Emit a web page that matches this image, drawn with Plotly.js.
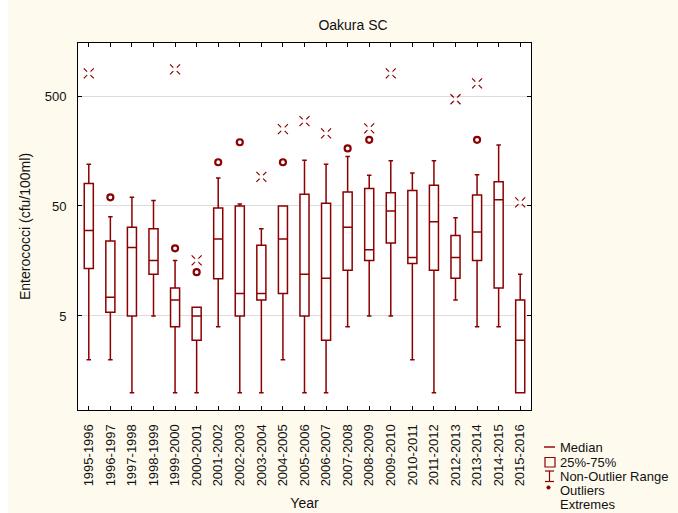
<!DOCTYPE html>
<html>
<head>
<meta charset="utf-8">
<script src="https://cdn.plot.ly/plotly-3.0.1.min.js"></script>
<style>html,body{margin:0;padding:0;background:#fffaee;}#chart{width:678px;height:513px;}</style>
</head>
<body>
<div id="chart"></div>
<script>
// ---- data ----
const years = ['1995-1996','1996-1997','1997-1998','1998-1999','1999-2000','2000-2001','2001-2002',
  '2002-2003','2003-2004','2004-2005','2005-2006','2006-2007','2007-2008','2008-2009','2009-2010',
  '2010-2011','2011-2012','2012-2013','2013-2014','2014-2015','2015-2016'];
const q1Vals     = [13.5, 5.4, 5, 12, 4, 3, 10.9, 5, 7, 8, 5, 3, 13, 16, 23, 15, 13, 11, 16, 9, 1];
const medianVals = [30, 7.4, 21, 16, 7, 5, 25, 8, 8, 25, 12, 11, 32, 20, 45, 17, 36, 17, 29, 57, 3];
const q3Vals     = [80, 24, 32, 31, 9, 6, 48, 50, 22, 50, 64, 53, 67, 72, 66, 69, 77, 27, 63, 83, 7];
const lowVals    = [2, 2, 1, 5, 1, 1, 4, 1, 1, 2, 1, 1, 4, 5, 5, 2, 1, 7, 4, 4, 1];
const highVals   = [120, 40, 60, 56, 16, 6, 90, 52, 31, 50, 130, 120, 141, 95, 129, 100, 129, 39, 96, 179, 12];

const outlierYears = ['1996-1997','1999-2000','2000-2001','2001-2002','2002-2003','2004-2005','2007-2008','2008-2009','2013-2014'];
const outlierVals  = [60, 20.6, 12.5, 125, 190, 125, 167, 200, 200];

const extremeYears = ['1995-1996','1999-2000','2000-2001','2003-2004','2004-2005','2005-2006','2006-2007','2008-2009','2009-2010','2012-2013','2013-2014','2015-2016'];
const extremeVals  = [804, 874, 16, 92, 250, 296, 229, 254, 804, 467, 652, 54];

const yTickVals = [5, 50, 500];
const yTickText = ['5', '50', '500'];

const legendLabels = ['Median', '25%-75%', 'Non-Outlier Range', 'Outliers', 'Extremes'];

// ---- styling ----
const RED = '#8b0000';
const FONT = 'Liberation Sans, Arial, sans-serif';
const L = 78, R = 531, T = 43, B = 410;
const px = x => (x - L) / (R - L);
const py = y => (B - y) / (B - T);

const traces = [
  {
    type: 'box', x: years,
    q1: q1Vals, median: medianVals, q3: q3Vals,
    lowerfence: lowVals, upperfence: highVals,
    boxpoints: false, width: 0.42, whiskerwidth: 0.5,
    fillcolor: '#ffffff', line: {color: RED, width: 1.5},
    hoverinfo: 'skip', showlegend: false
  },
  {
    type: 'scatter', mode: 'markers', x: outlierYears, y: outlierVals,
    marker: {symbol: 'circle-open', size: 6, color: RED, line: {color: RED, width: 2.2}},
    showlegend: false, hoverinfo: 'skip'
  },
  {
    type: 'scatter', mode: 'markers', x: extremeYears, y: extremeVals,
    marker: {symbol: 'x-thin-open', size: 10, color: RED, line: {color: RED, width: 1.2}},
    showlegend: false, hoverinfo: 'skip'
  },
  {
    type: 'scatter', mode: 'markers', x: extremeYears, y: extremeVals,
    marker: {symbol: 'square', size: 4, color: '#ffffff', line: {width: 0}},
    showlegend: false, hoverinfo: 'skip'
  }
];

const legendY = [447, 462, 476, 490, 504];
const annotations = legendLabels.map((t, i) => ({
  xref: 'paper', yref: 'paper', x: px(558), y: py(legendY[i]),
  xanchor: 'left', yanchor: 'middle', showarrow: false,
  text: t, font: {family: FONT, size: 13, color: '#111'}
}));

const shapes = [
  {type: 'rect', xref: 'paper', yref: 'paper', x0: px(0), x1: px(8), y0: py(513), y1: py(0),
   fillcolor: '#ffffff', line: {width: 0}, layer: 'below'},
  {type: 'line', xref: 'paper', yref: 'paper', x0: px(544), x1: px(555), y0: py(447), y1: py(447),
   line: {color: '#b04848', width: 2}},
  {type: 'rect', xref: 'paper', yref: 'paper', x0: px(545), x1: px(555), y0: py(467), y1: py(457.5),
   line: {color: RED, width: 1.2}, fillcolor: 'rgba(0,0,0,0)'},
  {type: 'line', xref: 'paper', yref: 'paper', x0: px(549.5), x1: px(549.5), y0: py(471), y1: py(481.5),
   line: {color: RED, width: 1.2}},
  {type: 'line', xref: 'paper', yref: 'paper', x0: px(545), x1: px(554), y0: py(471), y1: py(471),
   line: {color: RED, width: 1.2}},
  {type: 'line', xref: 'paper', yref: 'paper', x0: px(545), x1: px(554), y0: py(481.5), y1: py(481.5),
   line: {color: RED, width: 1.2}},
  {type: 'circle', xref: 'paper', yref: 'paper', x0: px(546.7), x1: px(550.3), y0: py(489.3), y1: py(485.7),
   fillcolor: RED, line: {color: RED, width: 0.5}}
];

const layout = {
  width: 678, height: 513,
  margin: {l: L, r: 678 - R, t: T, b: 513 - B, pad: 0},
  paper_bgcolor: '#fffaee', plot_bgcolor: '#ffffff',
  font: {family: FONT, size: 13, color: '#111'},
  title: {text: 'Oakura SC', xref: 'container', x: 353 / 678, xanchor: 'center',
          yref: 'container', y: 1 - 25 / 513, yanchor: 'middle',
          font: {family: FONT, size: 14, color: '#111'}},
  xaxis: {
    type: 'category', range: [-0.5, 20.5], autorange: false,
    showline: true, linecolor: '#000', linewidth: 1, mirror: 'ticks',
    ticks: 'inside', ticklen: 4, tickcolor: '#000', tickwidth: 1,
    tickangle: -90, tickfont: {family: FONT, size: 13, color: '#111'},
    ticklabelstandoff: 8,
    showgrid: false, zeroline: false,
    title: {text: 'Year', standoff: 12, font: {family: FONT, size: 14, color: '#111'}}
  },
  yaxis: {
    type: 'log', range: [-0.156, 3.181], autorange: false,
    tickvals: yTickVals, ticktext: yTickText,
    showline: true, linecolor: '#000', linewidth: 1, mirror: 'ticks',
    ticks: 'inside', ticklen: 4, tickcolor: '#000', tickwidth: 1,
    tickfont: {family: FONT, size: 13, color: '#111'},
    ticklabelstandoff: 8,
    showgrid: true, gridcolor: '#dcdcdc', gridwidth: 1, zeroline: false,
    title: {text: 'Enterococci (cfu/100ml)', standoff: 10, font: {family: FONT, size: 14, color: '#111'}}
  },
  showlegend: false,
  annotations: annotations,
  shapes: shapes
};

Plotly.newPlot('chart', traces, layout, {displayModeBar: false, staticPlot: true});
</script>
</body>
</html>
